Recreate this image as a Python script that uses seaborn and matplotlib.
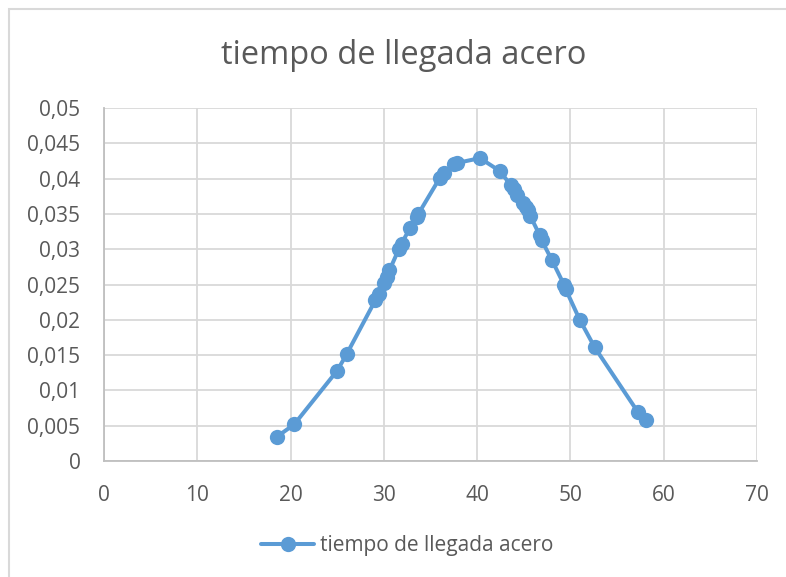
import matplotlib
matplotlib.use("Agg")
import matplotlib.pyplot as plt
from matplotlib.patches import Rectangle
from matplotlib.ticker import FuncFormatter, MultipleLocator
import seaborn as sns
import pandas as pd

# Arrival time of steel samples and the fitted probability density
tiempo = [18.5, 20.4, 25.0, 26.0, 29.1, 29.5, 30.0, 30.3, 30.6, 31.6, 31.9,
          32.8, 33.5, 33.7, 36.0, 36.5, 37.5, 37.8, 40.3, 42.4, 43.6, 44.0,
          44.3, 44.9, 45.2, 45.5, 45.7, 46.7, 46.9, 48.0, 49.3, 49.5, 51.0,
          52.6, 57.2, 58.1]
densidad = [0.0034, 0.0052, 0.0128, 0.0151, 0.0228, 0.0237, 0.0252, 0.0260,
            0.0270, 0.0300, 0.0308, 0.0330, 0.0346, 0.0350, 0.0401, 0.0408,
            0.0421, 0.0422, 0.0429, 0.0411, 0.0391, 0.0385, 0.0377, 0.0366,
            0.0360, 0.0355, 0.0347, 0.0320, 0.0313, 0.0285, 0.0250, 0.0243,
            0.0200, 0.0161, 0.0070, 0.0058]
serie = "tiempo de llegada acero"
titulo = "tiempo de llegada acero"

df = pd.DataFrame({"x": tiempo, "y": densidad})

sns.set_theme(style="white")
plt.rcParams["font.family"] = ["Open Sans", "DejaVu Sans"]

azul = "#5B9BD5"
gris_texto = "#595959"
gris_rejilla = "#D9D9D9"

fig = plt.figure(figsize=(7.86, 5.77), dpi=100)
ax = fig.add_axes([104 / 786, 1 - 461 / 577, (757 - 104) / 786, (461 - 108) / 577])

sns.lineplot(data=df, x="x", y="y", sort=False, ax=ax, color=azul,
             linewidth=2.9, marker="o", markersize=11, markeredgewidth=0,
             label=serie, legend=False, zorder=3)

ax.set_xlim(0, 70)
ax.set_ylim(0, 0.05)
ax.xaxis.set_major_locator(MultipleLocator(10))
ax.yaxis.set_major_locator(MultipleLocator(0.005))

def fmt_coma(v, pos):
    if abs(v) < 1e-12:
        return "0"
    s = f"{v:.3f}".rstrip("0")
    return s.replace(".", ",")

ax.yaxis.set_major_formatter(FuncFormatter(fmt_coma))
ax.xaxis.set_major_formatter(FuncFormatter(lambda v, p: f"{int(round(v))}"))

ax.grid(True, color=gris_rejilla, linewidth=1.3)
ax.set_axisbelow(True)
for side in ["top", "right"]:
    ax.spines[side].set_visible(False)
for side in ["left", "bottom"]:
    ax.spines[side].set_color("#BFBFBF")
    ax.spines[side].set_linewidth(1.3)
ax.tick_params(axis="both", length=0, labelsize=15, colors=gris_texto)
ax.tick_params(axis="x", pad=17)
ax.tick_params(axis="y", pad=17)
ax.set_xlabel("")
ax.set_ylabel("")

fig.text(0.513, 1 - 55 / 577, titulo, ha="center", va="center",
         fontsize=23.5, color=gris_texto)

handles, labels = ax.get_legend_handles_labels()
fig.legend(handles, labels, loc="center", bbox_to_anchor=(0.518, 1 - 546 / 577),
           frameon=False, fontsize=15, labelcolor=gris_texto, handlelength=2.55,
           handletextpad=0.25)

fig.patches.append(Rectangle((9 / 786, -0.05), 1.0, 1 - 9 / 577 + 0.05,
                             transform=fig.transFigure, fill=False,
                             edgecolor="#D9D9D9", linewidth=1.5, zorder=0))

fig.savefig("out.png", dpi=100, facecolor="white")
